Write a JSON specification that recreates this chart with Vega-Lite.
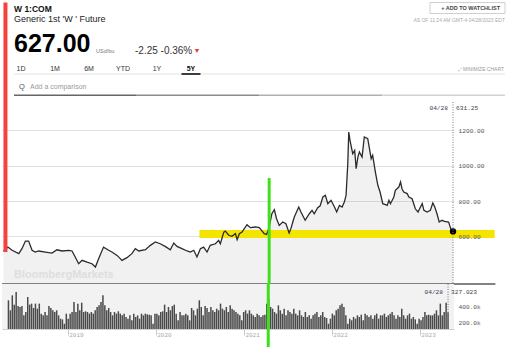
{
  "$schema": "https://vega.github.io/schema/vega-lite/v6.json",
  "padding": 0,
  "spacing": 0,
  "bounds": "flush",
  "background": "#ffffff",
  "config": {"view": {"stroke": null}, "font": "Liberation Sans", "text": {"font": "Liberation Sans"}},
  "datasets": {
    "price": [
      {"date": "2018-04-30", "price": 515}, {"date": "2018-05-18", "price": 539}, {"date": "2018-06-04", "price": 521},
      {"date": "2018-07-01", "price": 502}, {"date": "2018-07-14", "price": 530}, {"date": "2018-07-28", "price": 573},
      {"date": "2018-08-10", "price": 573}, {"date": "2018-08-24", "price": 521}, {"date": "2018-09-06", "price": 511},
      {"date": "2018-09-20", "price": 517}, {"date": "2018-10-17", "price": 511}, {"date": "2018-11-13", "price": 505},
      {"date": "2018-12-03", "price": 524}, {"date": "2018-12-24", "price": 517}, {"date": "2019-01-20", "price": 521},
      {"date": "2019-02-02", "price": 517}, {"date": "2019-02-15", "price": 483}, {"date": "2019-03-01", "price": 445},
      {"date": "2019-03-15", "price": 464}, {"date": "2019-04-04", "price": 454}, {"date": "2019-04-24", "price": 445},
      {"date": "2019-05-08", "price": 426}, {"date": "2019-05-21", "price": 473}, {"date": "2019-06-10", "price": 539},
      {"date": "2019-07-01", "price": 521}, {"date": "2019-07-14", "price": 511}, {"date": "2019-08-04", "price": 492},
      {"date": "2019-08-24", "price": 464}, {"date": "2019-09-13", "price": 479}, {"date": "2019-10-03", "price": 502},
      {"date": "2019-10-17", "price": 530}, {"date": "2019-10-31", "price": 517}, {"date": "2019-11-27", "price": 524},
      {"date": "2019-12-17", "price": 549}, {"date": "2020-01-06", "price": 568}, {"date": "2020-01-26", "price": 558},
      {"date": "2020-02-15", "price": 543}, {"date": "2020-03-07", "price": 524}, {"date": "2020-03-21", "price": 562},
      {"date": "2020-04-03", "price": 543}, {"date": "2020-04-23", "price": 530}, {"date": "2020-05-14", "price": 517},
      {"date": "2020-05-27", "price": 511}, {"date": "2020-06-10", "price": 521}, {"date": "2020-06-23", "price": 483},
      {"date": "2020-07-07", "price": 530}, {"date": "2020-07-20", "price": 539}, {"date": "2020-08-03", "price": 511},
      {"date": "2020-08-16", "price": 549}, {"date": "2020-09-06", "price": 558}, {"date": "2020-09-19", "price": 577},
      {"date": "2020-09-26", "price": 558}, {"date": "2020-10-10", "price": 624}, {"date": "2020-10-16", "price": 630},
      {"date": "2020-10-30", "price": 606}, {"date": "2020-11-12", "price": 600}, {"date": "2020-11-26", "price": 615},
      {"date": "2020-12-03", "price": 581}, {"date": "2020-12-12", "price": 615}, {"date": "2020-12-23", "price": 624},
      {"date": "2021-01-12", "price": 666}, {"date": "2021-01-26", "price": 649}, {"date": "2021-02-15", "price": 653},
      {"date": "2021-03-03", "price": 649}, {"date": "2021-03-23", "price": 615}, {"date": "2021-04-02", "price": 611},
      {"date": "2021-04-12", "price": 653}, {"date": "2021-04-23", "price": 728}, {"date": "2021-05-03", "price": 751},
      {"date": "2021-05-12", "price": 700}, {"date": "2021-05-23", "price": 662}, {"date": "2021-06-06", "price": 681},
      {"date": "2021-06-19", "price": 671}, {"date": "2021-07-02", "price": 619}, {"date": "2021-07-09", "price": 643},
      {"date": "2021-07-23", "price": 709}, {"date": "2021-08-10", "price": 766}, {"date": "2021-08-19", "price": 738},
      {"date": "2021-09-05", "price": 691}, {"date": "2021-09-22", "price": 728}, {"date": "2021-10-03", "price": 747},
      {"date": "2021-10-12", "price": 728}, {"date": "2021-10-26", "price": 762}, {"date": "2021-11-05", "price": 773},
      {"date": "2021-11-16", "price": 823}, {"date": "2021-11-26", "price": 832}, {"date": "2021-12-06", "price": 785},
      {"date": "2021-12-19", "price": 804}, {"date": "2022-01-02", "price": 766}, {"date": "2022-01-11", "price": 738},
      {"date": "2022-01-22", "price": 775}, {"date": "2022-02-02", "price": 766}, {"date": "2022-02-11", "price": 794},
      {"date": "2022-02-18", "price": 832}, {"date": "2022-02-25", "price": 1011}, {"date": "2022-03-01", "price": 1191},
      {"date": "2022-03-06", "price": 1144}, {"date": "2022-03-17", "price": 1068}, {"date": "2022-03-25", "price": 1087},
      {"date": "2022-03-31", "price": 983}, {"date": "2022-04-07", "price": 1049}, {"date": "2022-04-13", "price": 1078},
      {"date": "2022-04-24", "price": 1049}, {"date": "2022-05-03", "price": 1163}, {"date": "2022-05-17", "price": 1153},
      {"date": "2022-05-31", "price": 1040}, {"date": "2022-06-06", "price": 1059}, {"date": "2022-06-17", "price": 964},
      {"date": "2022-06-27", "price": 889}, {"date": "2022-07-06", "price": 851}, {"date": "2022-07-17", "price": 785},
      {"date": "2022-07-28", "price": 780}, {"date": "2022-08-04", "price": 775}, {"date": "2022-08-11", "price": 804},
      {"date": "2022-08-17", "price": 785}, {"date": "2022-08-31", "price": 823}, {"date": "2022-09-06", "price": 861},
      {"date": "2022-09-20", "price": 879}, {"date": "2022-09-27", "price": 908}, {"date": "2022-10-03", "price": 870},
      {"date": "2022-10-10", "price": 851}, {"date": "2022-10-24", "price": 842}, {"date": "2022-10-31", "price": 823},
      {"date": "2022-11-13", "price": 813}, {"date": "2022-11-26", "price": 756}, {"date": "2022-12-07", "price": 738},
      {"date": "2022-12-17", "price": 766}, {"date": "2022-12-24", "price": 785}, {"date": "2022-12-31", "price": 747},
      {"date": "2023-01-13", "price": 738}, {"date": "2023-01-26", "price": 747}, {"date": "2023-02-05", "price": 789},
      {"date": "2023-02-13", "price": 766}, {"date": "2023-02-22", "price": 728}, {"date": "2023-03-03", "price": 681},
      {"date": "2023-03-14", "price": 691}, {"date": "2023-03-25", "price": 685}, {"date": "2023-04-10", "price": 681},
      {"date": "2023-04-21", "price": 634}, {"date": "2023-04-28", "price": 628}
    ],
    "volume": [
      {"date": "2018-04-30", "vol": 480000}, {"date": "2018-05-08", "vol": 351000}, {"date": "2018-05-16", "vol": 544000}, {"date": "2018-05-24", "vol": 424000},
      {"date": "2018-06-01", "vol": 587000}, {"date": "2018-06-09", "vol": 406000}, {"date": "2018-06-17", "vol": 394000}, {"date": "2018-06-25", "vol": 406000},
      {"date": "2018-07-03", "vol": 286000}, {"date": "2018-07-11", "vol": 329000}, {"date": "2018-07-19", "vol": 523000}, {"date": "2018-07-27", "vol": 424000},
      {"date": "2018-08-04", "vol": 437000}, {"date": "2018-08-12", "vol": 381000}, {"date": "2018-08-20", "vol": 437000}, {"date": "2018-08-28", "vol": 372000},
      {"date": "2018-09-05", "vol": 437000}, {"date": "2018-09-13", "vol": 308000}, {"date": "2018-09-21", "vol": 286000}, {"date": "2018-09-29", "vol": 329000},
      {"date": "2018-10-07", "vol": 286000}, {"date": "2018-10-15", "vol": 406000}, {"date": "2018-10-23", "vol": 381000}, {"date": "2018-10-31", "vol": 351000},
      {"date": "2018-11-08", "vol": 329000}, {"date": "2018-11-16", "vol": 351000}, {"date": "2018-11-24", "vol": 286000}, {"date": "2018-12-02", "vol": 243000},
      {"date": "2018-12-10", "vol": 234000}, {"date": "2018-12-18", "vol": 178000}, {"date": "2018-12-26", "vol": 308000}, {"date": "2019-01-03", "vol": 243000},
      {"date": "2019-01-11", "vol": 308000}, {"date": "2019-01-19", "vol": 329000}, {"date": "2019-01-27", "vol": 458000}, {"date": "2019-02-04", "vol": 329000},
      {"date": "2019-02-12", "vol": 437000}, {"date": "2019-02-20", "vol": 351000}, {"date": "2019-02-28", "vol": 449000}, {"date": "2019-03-08", "vol": 329000},
      {"date": "2019-03-16", "vol": 338000}, {"date": "2019-03-24", "vol": 329000}, {"date": "2019-04-01", "vol": 308000}, {"date": "2019-04-09", "vol": 329000},
      {"date": "2019-04-17", "vol": 308000}, {"date": "2019-04-25", "vol": 351000}, {"date": "2019-05-03", "vol": 394000}, {"date": "2019-05-11", "vol": 415000},
      {"date": "2019-05-19", "vol": 458000}, {"date": "2019-05-27", "vol": 544000}, {"date": "2019-06-04", "vol": 415000}, {"date": "2019-06-12", "vol": 351000},
      {"date": "2019-06-20", "vol": 381000}, {"date": "2019-06-28", "vol": 329000}, {"date": "2019-07-06", "vol": 286000}, {"date": "2019-07-14", "vol": 329000},
      {"date": "2019-07-22", "vol": 308000}, {"date": "2019-07-30", "vol": 338000}, {"date": "2019-08-07", "vol": 308000}, {"date": "2019-08-15", "vol": 286000},
      {"date": "2019-08-23", "vol": 308000}, {"date": "2019-08-31", "vol": 265000}, {"date": "2019-09-08", "vol": 243000}, {"date": "2019-09-16", "vol": 286000},
      {"date": "2019-09-24", "vol": 222000}, {"date": "2019-10-02", "vol": 308000}, {"date": "2019-10-10", "vol": 265000}, {"date": "2019-10-18", "vol": 286000},
      {"date": "2019-10-26", "vol": 243000}, {"date": "2019-11-03", "vol": 308000}, {"date": "2019-11-11", "vol": 286000}, {"date": "2019-11-19", "vol": 308000},
      {"date": "2019-11-27", "vol": 299000}, {"date": "2019-12-05", "vol": 295000}, {"date": "2019-12-13", "vol": 286000}, {"date": "2019-12-21", "vol": 178000},
      {"date": "2019-12-29", "vol": 308000}, {"date": "2020-01-06", "vol": 308000}, {"date": "2020-01-14", "vol": 286000}, {"date": "2020-01-22", "vol": 329000},
      {"date": "2020-01-30", "vol": 338000}, {"date": "2020-02-07", "vol": 424000}, {"date": "2020-02-15", "vol": 329000}, {"date": "2020-02-23", "vol": 394000},
      {"date": "2020-03-02", "vol": 351000}, {"date": "2020-03-10", "vol": 406000}, {"date": "2020-03-18", "vol": 424000}, {"date": "2020-03-26", "vol": 308000},
      {"date": "2020-04-03", "vol": 222000}, {"date": "2020-04-11", "vol": 329000}, {"date": "2020-04-19", "vol": 286000}, {"date": "2020-04-27", "vol": 286000},
      {"date": "2020-05-05", "vol": 308000}, {"date": "2020-05-13", "vol": 286000}, {"date": "2020-05-21", "vol": 222000}, {"date": "2020-05-29", "vol": 381000},
      {"date": "2020-06-06", "vol": 351000}, {"date": "2020-06-14", "vol": 286000}, {"date": "2020-06-22", "vol": 372000}, {"date": "2020-06-30", "vol": 480000},
      {"date": "2020-07-08", "vol": 394000}, {"date": "2020-07-16", "vol": 286000}, {"date": "2020-07-24", "vol": 406000}, {"date": "2020-08-01", "vol": 381000},
      {"date": "2020-08-09", "vol": 329000}, {"date": "2020-08-17", "vol": 394000}, {"date": "2020-08-25", "vol": 351000}, {"date": "2020-09-02", "vol": 329000},
      {"date": "2020-09-10", "vol": 372000}, {"date": "2020-09-18", "vol": 351000}, {"date": "2020-09-26", "vol": 437000}, {"date": "2020-10-04", "vol": 372000},
      {"date": "2020-10-12", "vol": 351000}, {"date": "2020-10-20", "vol": 394000}, {"date": "2020-10-28", "vol": 329000}, {"date": "2020-11-05", "vol": 415000},
      {"date": "2020-11-13", "vol": 372000}, {"date": "2020-11-21", "vol": 351000}, {"date": "2020-11-29", "vol": 329000}, {"date": "2020-12-07", "vol": 308000},
      {"date": "2020-12-15", "vol": 286000}, {"date": "2020-12-23", "vol": 222000}, {"date": "2020-12-31", "vol": 329000}, {"date": "2021-01-08", "vol": 351000},
      {"date": "2021-01-16", "vol": 308000}, {"date": "2021-01-24", "vol": 351000}, {"date": "2021-02-01", "vol": 308000}, {"date": "2021-02-09", "vol": 286000},
      {"date": "2021-02-17", "vol": 265000}, {"date": "2021-02-25", "vol": 308000}, {"date": "2021-03-05", "vol": 286000}, {"date": "2021-03-13", "vol": 265000},
      {"date": "2021-03-21", "vol": 286000}, {"date": "2021-03-29", "vol": 295000}, {"date": "2021-04-06", "vol": 437000}, {"date": "2021-04-14", "vol": 501000},
      {"date": "2021-04-22", "vol": 394000}, {"date": "2021-04-30", "vol": 372000}, {"date": "2021-05-08", "vol": 329000}, {"date": "2021-05-16", "vol": 308000},
      {"date": "2021-05-24", "vol": 415000}, {"date": "2021-06-01", "vol": 351000}, {"date": "2021-06-09", "vol": 308000}, {"date": "2021-06-17", "vol": 372000},
      {"date": "2021-06-25", "vol": 286000}, {"date": "2021-07-03", "vol": 351000}, {"date": "2021-07-11", "vol": 329000}, {"date": "2021-07-19", "vol": 308000},
      {"date": "2021-07-27", "vol": 372000}, {"date": "2021-08-04", "vol": 308000}, {"date": "2021-08-12", "vol": 286000}, {"date": "2021-08-20", "vol": 351000},
      {"date": "2021-08-28", "vol": 286000}, {"date": "2021-09-05", "vol": 265000}, {"date": "2021-09-13", "vol": 329000}, {"date": "2021-09-21", "vol": 265000},
      {"date": "2021-09-29", "vol": 286000}, {"date": "2021-10-07", "vol": 243000}, {"date": "2021-10-15", "vol": 286000}, {"date": "2021-10-23", "vol": 308000},
      {"date": "2021-10-31", "vol": 329000}, {"date": "2021-11-08", "vol": 265000}, {"date": "2021-11-16", "vol": 286000}, {"date": "2021-11-24", "vol": 329000},
      {"date": "2021-12-02", "vol": 265000}, {"date": "2021-12-10", "vol": 252000}, {"date": "2021-12-18", "vol": 178000}, {"date": "2021-12-26", "vol": 243000},
      {"date": "2022-01-03", "vol": 308000}, {"date": "2022-01-11", "vol": 286000}, {"date": "2022-01-19", "vol": 351000}, {"date": "2022-01-27", "vol": 372000},
      {"date": "2022-02-04", "vol": 415000}, {"date": "2022-02-12", "vol": 437000}, {"date": "2022-02-20", "vol": 394000}, {"date": "2022-02-28", "vol": 286000},
      {"date": "2022-03-08", "vol": 178000}, {"date": "2022-03-16", "vol": 243000}, {"date": "2022-03-24", "vol": 222000}, {"date": "2022-04-01", "vol": 265000},
      {"date": "2022-04-09", "vol": 243000}, {"date": "2022-04-17", "vol": 286000}, {"date": "2022-04-25", "vol": 265000}, {"date": "2022-05-03", "vol": 295000},
      {"date": "2022-05-11", "vol": 222000}, {"date": "2022-05-19", "vol": 308000}, {"date": "2022-05-27", "vol": 286000}, {"date": "2022-06-04", "vol": 265000},
      {"date": "2022-06-12", "vol": 286000}, {"date": "2022-06-20", "vol": 243000}, {"date": "2022-06-28", "vol": 286000}, {"date": "2022-07-06", "vol": 308000},
      {"date": "2022-07-14", "vol": 243000}, {"date": "2022-07-22", "vol": 286000}, {"date": "2022-07-30", "vol": 286000}, {"date": "2022-08-07", "vol": 308000},
      {"date": "2022-08-15", "vol": 265000}, {"date": "2022-08-23", "vol": 286000}, {"date": "2022-08-31", "vol": 308000}, {"date": "2022-09-08", "vol": 329000},
      {"date": "2022-09-16", "vol": 286000}, {"date": "2022-09-24", "vol": 243000}, {"date": "2022-10-02", "vol": 286000}, {"date": "2022-10-10", "vol": 265000},
      {"date": "2022-10-18", "vol": 372000}, {"date": "2022-10-26", "vol": 286000}, {"date": "2022-11-03", "vol": 243000}, {"date": "2022-11-11", "vol": 286000},
      {"date": "2022-11-19", "vol": 308000}, {"date": "2022-11-27", "vol": 243000}, {"date": "2022-12-05", "vol": 265000}, {"date": "2022-12-13", "vol": 234000},
      {"date": "2022-12-21", "vol": 178000}, {"date": "2022-12-29", "vol": 243000}, {"date": "2023-01-06", "vol": 222000}, {"date": "2023-01-14", "vol": 265000},
      {"date": "2023-01-22", "vol": 329000}, {"date": "2023-01-30", "vol": 286000}, {"date": "2023-02-07", "vol": 295000}, {"date": "2023-02-15", "vol": 286000},
      {"date": "2023-02-23", "vol": 286000}, {"date": "2023-03-03", "vol": 308000}, {"date": "2023-03-11", "vol": 351000}, {"date": "2023-03-19", "vol": 286000},
      {"date": "2023-03-27", "vol": 437000}, {"date": "2023-04-04", "vol": 286000}, {"date": "2023-04-12", "vol": 329000}, {"date": "2023-04-20", "vol": 449000},
      {"date": "2023-04-28", "vol": 327023}
    ]
  },
  "vconcat": [
    {
      "width": 508, "height": 26,
      "data": {"values": [
        {"k": "sym", "side": "left", "line": "1", "t": "W 1:COM"},
        {"k": "name", "side": "left", "line": "2", "t": "Generic 1st 'W ' Future"},
        {"k": "btn", "side": "right", "line": "1", "t": "+   ADD TO WATCHLIST"},
        {"k": "asof", "side": "right", "line": "2", "t": "AS OF 11:24 AM GMT-4 04/28/2023 EDT"}
      ]},
      "resolve": {"scale": {"x": "independent", "y": "independent"}},
      "layer": [
        {"data": {"values": [{"a": "bl", "b": "br", "c": "top", "d": "bottom"}]},
         "mark": {"type": "rect", "fill": "#ffffff", "stroke": "#c4c4c4", "strokeWidth": 0.8},
         "encoding": {
           "x": {"field": "a", "type": "nominal", "axis": null, "scale": {"type": "point", "padding": 0, "domain": ["bl", "br"], "range": [428, 503]}},
           "x2": {"field": "b"},
           "y": {"field": "c", "type": "nominal", "axis": null, "scale": {"type": "point", "padding": 0, "domain": ["top", "bottom"], "range": [0.5, 11.5]}},
           "y2": {"field": "d"}}},
        {"transform": [{"filter": "datum.k === 'sym'"}], "mark": {"type": "text", "align": "left", "baseline": "middle", "fontSize": 8.5, "fontWeight": "bold", "color": "#111111"},
         "encoding": {
           "x": {"field": "side", "type": "nominal", "axis": null, "scale": {"type": "point", "padding": 0, "domain": ["left", "right"], "range": [12, 500]}},
           "y": {"field": "line", "type": "nominal", "axis": null, "scale": {"type": "point", "padding": 0, "domain": ["1", "2"], "range": [6.5, 16.5]}},
           "text": {"field": "t", "type": "nominal"}}},
        {"transform": [{"filter": "datum.k === 'name'"}], "mark": {"type": "text", "align": "left", "baseline": "middle", "fontSize": 9, "color": "#222222"},
         "encoding": {
           "x": {"field": "side", "type": "nominal", "axis": null, "scale": {"type": "point", "padding": 0, "domain": ["left", "right"], "range": [12, 500]}},
           "y": {"field": "line", "type": "nominal", "axis": null, "scale": {"type": "point", "padding": 0, "domain": ["1", "2"], "range": [6.5, 16.5]}},
           "text": {"field": "t", "type": "nominal"}}},
        {"transform": [{"filter": "datum.k === 'btn'"}], "mark": {"type": "text", "align": "right", "baseline": "middle", "fontSize": 5.5, "fontWeight": "bold", "color": "#444444"},
         "encoding": {
           "x": {"field": "side", "type": "nominal", "axis": null, "scale": {"type": "point", "padding": 0, "domain": ["left", "right"], "range": [12, 498]}},
           "y": {"field": "line", "type": "nominal", "axis": null, "scale": {"type": "point", "padding": 0, "domain": ["1", "2"], "range": [6, 16.5]}},
           "text": {"field": "t", "type": "nominal"}}},
        {"transform": [{"filter": "datum.k === 'asof'"}], "mark": {"type": "text", "align": "right", "baseline": "middle", "fontSize": 5, "color": "#aaaaaa"},
         "encoding": {
           "x": {"field": "side", "type": "nominal", "axis": null, "scale": {"type": "point", "padding": 0, "domain": ["left", "right"], "range": [12, 503]}},
           "y": {"field": "line", "type": "nominal", "axis": null, "scale": {"type": "point", "padding": 0, "domain": ["1", "2"], "range": [6.5, 17.5]}},
           "text": {"field": "t", "type": "nominal"}}}
      ]
    },
    {
      "width": 508, "height": 34,
      "data": {"values": [
        {"k": "price", "lv": "mid", "t": "627.00"},
        {"k": "unit", "lv": "low", "t": "USd/bu"},
        {"k": "chg", "lv": "low", "t": "-2.25 -0.36%"},
        {"k": "arrow", "lv": "low", "t": "▼"}
      ]},
      "resolve": {"scale": {"x": "independent"}},
      "layer": [
        {"transform": [{"filter": "datum.k === 'price'"}],
         "mark": {"type": "text", "align": "left", "baseline": "middle", "fontSize": 25, "fontWeight": "bold", "color": "#000000"},
         "encoding": {
           "x": {"field": "k", "type": "nominal", "axis": null, "scale": {"type": "point", "padding": 0, "domain": ["price", "unit"], "range": [12, 94]}},
           "y": {"field": "lv", "type": "nominal", "axis": null, "scale": {"type": "point", "padding": 0, "domain": ["mid", "low"], "range": [15.5, 22.5]}},
           "text": {"field": "t", "type": "nominal"}}},
        {"transform": [{"filter": "datum.k === 'unit'"}],
         "mark": {"type": "text", "align": "left", "baseline": "middle", "fontSize": 5.5, "color": "#777777"},
         "encoding": {
           "x": {"field": "k", "type": "nominal", "axis": null, "scale": {"type": "point", "padding": 0, "domain": ["price", "unit"], "range": [12, 94]}},
           "y": {"field": "lv", "type": "nominal", "axis": null, "scale": {"type": "point", "padding": 0, "domain": ["mid", "low"], "range": [15.5, 22.5]}},
           "text": {"field": "t", "type": "nominal"}}},
        {"transform": [{"filter": "datum.k === 'chg'"}],
         "mark": {"type": "text", "align": "left", "baseline": "middle", "fontSize": 10, "color": "#333333"},
         "encoding": {
           "x": {"field": "k", "type": "nominal", "axis": null, "scale": {"type": "point", "padding": 0, "domain": ["chg", "arrow"], "range": [133, 195]}},
           "y": {"field": "lv", "type": "nominal", "axis": null, "scale": {"type": "point", "padding": 0, "domain": ["mid", "low"], "range": [15.5, 22.5]}},
           "text": {"field": "t", "type": "nominal"}}},
        {"transform": [{"filter": "datum.k === 'arrow'"}],
         "mark": {"type": "text", "align": "center", "baseline": "middle", "fontSize": 7, "color": "#e8383d"},
         "encoding": {
           "x": {"field": "k", "type": "nominal", "axis": null, "scale": {"type": "point", "padding": 0, "domain": ["chg", "arrow"], "range": [133, 195]}},
           "y": {"field": "lv", "type": "nominal", "axis": null, "scale": {"type": "point", "padding": 0, "domain": ["mid", "low"], "range": [15.5, 22.5]}},
           "text": {"field": "t", "type": "nominal"}}}
      ]
    },
    {
      "width": 508, "height": 16,
      "resolve": {"scale": {"x": "independent"}},
      "layer": [
        {"data": {"values": [{"a": "start", "b": "end", "lv": "line"}]},
         "mark": {"type": "rule", "color": "#e3e3e3", "strokeWidth": 1},
         "encoding": {
           "x": {"field": "a", "type": "nominal", "axis": null, "scale": {"type": "point", "padding": 0, "domain": ["start", "end"], "range": [12, 503]}},
           "x2": {"field": "b"},
           "y": {"field": "lv", "type": "nominal", "axis": null, "scale": {"type": "point", "padding": 0, "domain": ["label", "line"], "range": [6.5, 12]}}}},
        {"data": {"values": [{"t": "1D", "lv": "label"}, {"t": "1M", "lv": "label"}, {"t": "6M", "lv": "label"}, {"t": "YTD", "lv": "label"}, {"t": "1Y", "lv": "label"}]},
         "mark": {"type": "text", "align": "center", "baseline": "middle", "fontSize": 7, "color": "#333333"},
         "encoding": {
           "x": {"field": "t", "type": "nominal", "axis": null, "scale": {"type": "point", "padding": 0, "domain": ["1D", "1M", "6M", "YTD", "1Y", "5Y"], "range": [19, 189]}},
           "y": {"field": "lv", "type": "nominal", "axis": null, "scale": {"type": "point", "padding": 0, "domain": ["label", "line"], "range": [6.5, 12]}},
           "text": {"field": "t", "type": "nominal"}}},
        {"data": {"values": [{"t": "5Y", "lv": "label"}]},
         "mark": {"type": "text", "align": "center", "baseline": "middle", "fontSize": 7, "fontWeight": "bold", "color": "#111111"},
         "encoding": {
           "x": {"field": "t", "type": "nominal", "axis": null, "scale": {"type": "point", "padding": 0, "domain": ["1D", "1M", "6M", "YTD", "1Y", "5Y"], "range": [19, 189]}},
           "y": {"field": "lv", "type": "nominal", "axis": null, "scale": {"type": "point", "padding": 0, "domain": ["label", "line"], "range": [6.5, 12]}},
           "text": {"field": "t", "type": "nominal"}}},
        {"data": {"values": [{"t": "5Y", "lv": "line"}]},
         "mark": {"type": "tick", "orient": "horizontal", "size": 19, "thickness": 1.6, "color": "#111111", "opacity": 1},
         "encoding": {
           "x": {"field": "t", "type": "nominal", "axis": null, "scale": {"type": "point", "padding": 0, "domain": ["1D", "1M", "6M", "YTD", "1Y", "5Y"], "range": [19, 189]}},
           "y": {"field": "lv", "type": "nominal", "axis": null, "scale": {"type": "point", "padding": 0, "domain": ["label", "line"], "range": [6.5, 12]}}}},
        {"data": {"values": [{"a": "end", "lv": "label", "t": "⤢ MINIMIZE CHART"}]},
         "mark": {"type": "text", "align": "right", "baseline": "middle", "fontSize": 5, "color": "#999999"},
         "encoding": {
           "x": {"field": "a", "type": "nominal", "axis": null, "scale": {"type": "point", "padding": 0, "domain": ["start", "end"], "range": [12, 502]}},
           "y": {"field": "lv", "type": "nominal", "axis": null, "scale": {"type": "point", "padding": 0, "domain": ["label", "line"], "range": [6.5, 12]}},
           "text": {"field": "t", "type": "nominal"}}}
      ]
    },
    {
      "width": 508, "height": 24,
      "resolve": {"scale": {"x": "independent"}},
      "layer": [
        {"data": {"values": [
           {"a": "p0", "b": "p1", "lv": "line", "shade": "s1"},
           {"a": "p1", "b": "p2", "lv": "line", "shade": "s2"},
           {"a": "p2", "b": "p3", "lv": "line", "shade": "s3"},
           {"a": "p3", "b": "p4", "lv": "line", "shade": "s4"}]},
         "mark": {"type": "rule", "strokeWidth": 1.5},
         "encoding": {
           "x": {"field": "a", "type": "nominal", "axis": null, "scale": {"type": "point", "padding": 0, "domain": ["p0", "p1", "p2", "p3", "p4"], "range": [12, 503]}},
           "x2": {"field": "b"},
           "y": {"field": "lv", "type": "nominal", "axis": null, "scale": {"type": "point", "padding": 0, "domain": ["text", "line"], "range": [8.5, 17.3]}},
           "color": {"field": "shade", "type": "nominal", "legend": null, "scale": {"domain": ["s1", "s2", "s3", "s4"], "range": ["#666666", "#8c8c8c", "#b0b0b0", "#d2d2d2"]}}}},
        {"data": {"values": [{"k": "icon", "lv": "text", "t": "Q"}]},
         "mark": {"type": "text", "align": "center", "baseline": "middle", "fontSize": 7.5, "color": "#555555"},
         "encoding": {
           "x": {"field": "k", "type": "nominal", "axis": null, "scale": {"type": "point", "padding": 0, "domain": ["icon", "label"], "range": [20, 28]}},
           "y": {"field": "lv", "type": "nominal", "axis": null, "scale": {"type": "point", "padding": 0, "domain": ["text", "line"], "range": [8.5, 17.3]}},
           "text": {"field": "t", "type": "nominal"}}},
        {"data": {"values": [{"k": "label", "lv": "text", "t": "Add a comparison"}]},
         "mark": {"type": "text", "align": "left", "baseline": "middle", "fontSize": 7, "color": "#999999"},
         "encoding": {
           "x": {"field": "k", "type": "nominal", "axis": null, "scale": {"type": "point", "padding": 0, "domain": ["icon", "label"], "range": [20, 28]}},
           "y": {"field": "lv", "type": "nominal", "axis": null, "scale": {"type": "point", "padding": 0, "domain": ["text", "line"], "range": [8.5, 17.3]}},
           "text": {"field": "t", "type": "nominal"}}}
      ]
    },
    {
      "width": 452, "height": 182,
      "resolve": {"axis": {"y": "independent"}},
      "layer": [
        {"data": {"name": "price"},
         "mark": {"type": "area", "color": "#000000", "opacity": 0.055, "clip": true},
         "encoding": {
           "x": {"field": "date", "type": "temporal", "axis": null, "scale": {"type": "utc", "domain": [{"year": 2018, "month": 4, "date": 24, "utc": true}, {"year": 2023, "month": 5, "date": 2, "utc": true}]}},
           "y": {"field": "price", "type": "quantitative", "title": null, "scale": {"domain": [330, 1361], "zero": false, "nice": false},
                 "axis": {"orient": "left", "values": [600, 800, 1000, 1200], "grid": true, "gridColor": "#e2e2e2", "labels": false, "domain": false, "ticks": false, "title": null, "zindex": 0}},
           "y2": {"datum": 330}}},
        {"data": {"values": [{"date": "2020-07-03", "date2": "2023-10-14", "price": 590, "price2": 636}]},
         "mark": {"type": "rect", "color": "#f3e500", "opacity": 1},
         "encoding": {
           "x": {"field": "date", "type": "temporal"},
           "x2": {"field": "date2"},
           "y": {"field": "price", "type": "quantitative", "title": null, "axis": null},
           "y2": {"field": "price2"}}},
        {"data": {"values": [{"date": "2018-04-24", "date2": "2023-10-17", "price": 330}]},
         "mark": {"type": "rule", "color": "#5a5a5a", "strokeWidth": 1.5},
         "encoding": {
           "x": {"field": "date", "type": "temporal"},
           "x2": {"field": "date2"},
           "y": {"field": "price", "type": "quantitative", "title": null, "axis": null}}},
        {"data": {"name": "price"},
         "mark": {"type": "line", "color": "#2b2b2b", "strokeWidth": 1.3},
         "encoding": {
           "x": {"field": "date", "type": "temporal"},
           "y": {"field": "price", "type": "quantitative", "title": null,
                 "axis": {"orient": "right", "values": [600, 800, 1000, 1200], "format": ".2f", "grid": false, "domain": false, "ticks": false, "labelFont": "Liberation Mono", "labelFontSize": 6.2, "labelColor": "#555555", "labelPadding": 4, "title": null, "zindex": 1}}}},
        {"data": {"name": "price"},
         "transform": [{"filter": "datum.price === 628"}],
         "mark": {"type": "point", "filled": true, "color": "#000000", "size": 40, "opacity": 1},
         "encoding": {
           "x": {"field": "date", "type": "temporal"},
           "y": {"field": "price", "type": "quantitative", "title": null, "axis": null}}},
        {"data": {"values": [{"date": "2023-04-28"}]},
         "mark": {"type": "rule", "color": "#777777", "strokeWidth": 1, "strokeDash": [1, 1.5]},
         "encoding": {"x": {"field": "date", "type": "temporal"}}},
        {"data": {"values": [{"date": "2023-04-28", "price": 1344, "t": "04/28"}]},
         "mark": {"type": "text", "align": "right", "baseline": "top", "dx": -5, "font": "Liberation Mono", "fontSize": 6.2, "color": "#3a3a55"},
         "encoding": {
           "x": {"field": "date", "type": "temporal"},
           "y": {"field": "price", "type": "quantitative", "title": null, "axis": null},
           "text": {"field": "t", "type": "nominal"}}},
        {"data": {"values": [{"date": "2023-04-28", "price": 1344, "t": "631.25"}]},
         "mark": {"type": "text", "align": "left", "baseline": "top", "dx": 3, "font": "Liberation Mono", "fontSize": 6.2, "color": "#444444"},
         "encoding": {
           "x": {"field": "date", "type": "temporal"},
           "y": {"field": "price", "type": "quantitative", "title": null, "axis": null},
           "text": {"field": "t", "type": "nominal"}}},
        {"data": {"values": [{"date": "2018-06-12", "price": 381, "t": "BloombergMarkets"}]},
         "mark": {"type": "text", "align": "left", "baseline": "middle", "fontSize": 11, "fontWeight": "bold", "color": "#dedede"},
         "encoding": {
           "x": {"field": "date", "type": "temporal"},
           "y": {"field": "price", "type": "quantitative", "title": null, "axis": null},
           "text": {"field": "t", "type": "nominal"}}},
        {"data": {"values": [{"date": "2018-05-08", "price": 511, "price2": 1925}]},
         "mark": {"type": "rule", "color": "#f5423c", "strokeWidth": 4},
         "encoding": {
           "x": {"field": "date", "type": "temporal"},
           "y": {"field": "price", "type": "quantitative", "title": null, "axis": null},
           "y2": {"field": "price2"}}},
        {"data": {"values": [{"date": "2021-04-12", "price": 930, "price2": 330}]},
         "mark": {"type": "rule", "color": "#3ee01c", "strokeWidth": 3},
         "encoding": {
           "x": {"field": "date", "type": "temporal"},
           "y": {"field": "price", "type": "quantitative", "title": null, "axis": null},
           "y2": {"field": "price2"}}}
      ]
    },
    {
      "width": 452, "height": 45,
      "view": {"fill": "#f2f2f2", "stroke": null},
      "layer": [
        {"data": {"name": "volume"},
         "mark": {"type": "bar", "width": 1.5, "color": "#4a4a4a", "clip": true},
         "encoding": {
           "x": {"field": "date", "type": "temporal", "title": null,
                 "scale": {"type": "utc", "domain": [{"year": 2018, "month": 4, "date": 24, "utc": true}, {"year": 2023, "month": 5, "date": 2, "utc": true}]},
                 "axis": {"orient": "bottom", "values": [{"year": 2019, "month": 1, "date": 1, "utc": true}, {"year": 2020, "month": 1, "date": 1, "utc": true}, {"year": 2021, "month": 1, "date": 1, "utc": true}, {"year": 2022, "month": 1, "date": 1, "utc": true}, {"year": 2023, "month": 1, "date": 1, "utc": true}],
                          "format": "%Y", "formatType": "utc", "labelAlign": "left", "labelBaseline": "top", "labelPadding": -4, "labelOffset": 1, "tickSize": 6, "tickColor": "#c8c8c8", "domainColor": "#d0d0d0", "labelColor": "#aaaaaa", "labelFontSize": 6, "labelFont": "Liberation Mono", "grid": false, "title": null}},
           "y": {"field": "vol", "type": "quantitative", "title": null, "scale": {"domain": [110000, 690000], "zero": false, "nice": false},
                 "axis": {"orient": "right", "values": [200000, 400000], "labelExpr": "format(datum.value / 1000, '.1f') + 'k'", "grid": false, "domain": false, "ticks": false, "labelFont": "Liberation Mono", "labelFontSize": 6.2, "labelColor": "#555555", "labelPadding": 4, "title": null}}}},
        {"data": {"values": [{"date": "2023-04-28"}]},
         "mark": {"type": "rule", "color": "#777777", "strokeWidth": 1, "strokeDash": [1, 1.5]},
         "encoding": {"x": {"field": "date", "type": "temporal"}}},
        {"data": {"values": [{"date": "2023-04-28", "vol": 620000, "t": "04/28"}]},
         "mark": {"type": "text", "align": "right", "baseline": "top", "dx": -5, "font": "Liberation Mono", "fontSize": 6.2, "color": "#3a3a55"},
         "encoding": {
           "x": {"field": "date", "type": "temporal"},
           "y": {"field": "vol", "type": "quantitative", "title": null},
           "text": {"field": "t", "type": "nominal"}}},
        {"data": {"values": [{"date": "2023-04-28", "vol": 620000, "t": "327.023"}]},
         "mark": {"type": "text", "align": "left", "baseline": "top", "dx": 3, "font": "Liberation Mono", "fontSize": 6.2, "color": "#444444"},
         "encoding": {
           "x": {"field": "date", "type": "temporal"},
           "y": {"field": "vol", "type": "quantitative", "title": null},
           "text": {"field": "t", "type": "nominal"}}},
        {"data": {"values": [{"date": "2021-04-12", "vol": 700000, "vol2": -123000}]},
         "mark": {"type": "rule", "color": "#3ee01c", "strokeWidth": 3},
         "encoding": {
           "x": {"field": "date", "type": "temporal"},
           "y": {"field": "vol", "type": "quantitative", "title": null},
           "y2": {"field": "vol2"}}}
      ]
    }
  ]
}
